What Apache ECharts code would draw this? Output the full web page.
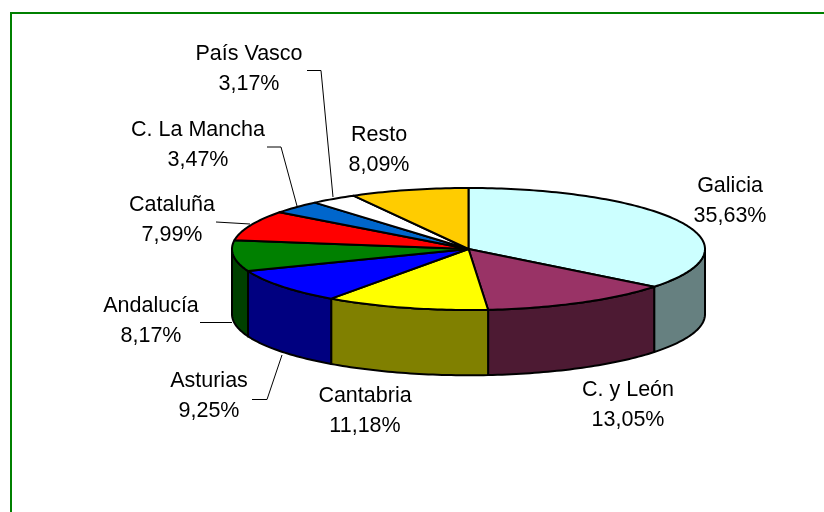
<!DOCTYPE html>
<html>
<head>
<meta charset="utf-8">
<script src="https://cdn.jsdelivr.net/npm/echarts@6/dist/echarts.min.js"></script>
<style>
  html, body { margin: 0; padding: 0; background: #fff; }
  #pie { width: 824px; height: 512px; }
</style>
</head>
<body>
<div id="pie"></div>
<script>
var regions = ['Galicia', 'C. y León', 'Cantabria', 'Asturias', 'Andalucía', 'Cataluña', 'C. La Mancha', 'País Vasco', 'Resto'];
var shares = [35.63, 13.05, 11.18, 9.25, 8.17, 7.99, 3.47, 3.17, 8.09];
var topColors = ['#CCFFFF', '#993366', '#FFFF00', '#0000FF', '#008000', '#FF0000', '#0066CC', '#FFFFFF', '#FFCC00'];
var sideColors = ['#668080', '#4D1A33', '#808000', '#000080', '#004000', '#800000', '#003366', '#808080', '#806600'];

// centre of each label block, px
var labelSpots = [[730, 201], [628, 405], [365, 411], [209, 396], [151, 321], [172, 220], [198, 145], [249, 69], [379, 150]];
var leaders = [
  [[252, 399.5], [267, 399.5], [282, 355]],
  [[200, 322.5], [232, 322.5]],
  [[216, 222], [250, 224]],
  [[267, 147], [281, 147], [297, 206]],
  [[307, 70.5], [321, 70.5], [333, 197]]
];

var total = shares.reduce(function (a, b) { return a + b; }, 0);
var depth = 1.07;   // height of the wall, in axis units
var starts = [];
var run = 0;
shares.forEach(function (v) {
  starts.push(run / total * Math.PI * 2);
  run += v;
});

function rim(angle, drop) {
  return [Math.sin(angle), Math.cos(angle) * -1 + (drop || 0)];
}

function arcPoints(from, to, drop, api) {
  var pts = [];
  var steps = Math.max(2, Math.ceil((to - from) / 0.02));
  for (var i = 0; i <= steps; i++) {
    pts.push(api.coord(rim(from + (to - from) * i / steps, drop)));
  }
  return pts;
}

function renderTop(params, api) {
  var i = params.dataIndex;
  var from = starts[i];
  var to = from + api.value(1) / total * Math.PI * 2;
  var pts = [api.coord([0, 0])].concat(arcPoints(from, to, 0, api));
  return {
    type: 'polygon',
    shape: { points: pts },
    style: { fill: topColors[i], stroke: '#000', lineWidth: 2, lineJoin: 'round' }
  };
}

function renderSide(params, api) {
  var i = params.dataIndex;
  var from = starts[i];
  var to = from + api.value(1) / total * Math.PI * 2;
  // only the front half of the disc shows its wall
  from = Math.max(from, Math.PI / 2);
  to = Math.min(to, Math.PI * 1.5);
  if (to <= from) return null;
  var pts = arcPoints(from, to, 0, api).concat(arcPoints(from, to, depth, api).reverse());
  return {
    type: 'polygon',
    shape: { points: pts },
    style: { fill: sideColors[i], stroke: '#000', lineWidth: 2, lineJoin: 'round' }
  };
}

var chartDom = document.getElementById('pie');
var myChart = echarts.init(chartDom);

var graphics = [{
  type: 'polyline',
  shape: { points: [[11, 512], [11, 13], [824, 13]] },
  style: { stroke: '#008000', lineWidth: 2, fill: null }
}];
leaders.forEach(function (l) {
  graphics.push({
    type: 'polyline',
    shape: { points: l },
    style: { stroke: '#000', lineWidth: 1, fill: null }
  });
});
regions.forEach(function (name, i) {
  graphics.push({
    type: 'text',
    x: labelSpots[i][0],
    y: labelSpots[i][1],
    style: {
      text: name + '\n' + shares[i].toFixed(2).replace('.', ',') + '%',
      fontFamily: '"Liberation Sans", Arial, sans-serif',
      fontSize: 21.5,
      lineHeight: 30,
      fill: '#000',
      align: 'center',
      verticalAlign: 'middle'
    }
  });
});

var rows = regions.map(function (name, i) { return [i, shares[i], name]; });

var option = {
  animation: false,
  backgroundColor: '#fff',
  tooltip: {},
  grid: { left: 232, top: 188, width: 473, height: 122 },
  xAxis: { type: 'value', min: -1, max: 1, show: false },
  yAxis: { type: 'value', min: -1, max: 1, inverse: true, show: false },
  graphic: graphics,
  series: [
    { type: 'custom', coordinateSystem: 'cartesian2d', z: 1, clip: false, renderItem: renderSide, data: rows, encode: { x: -1, y: -1 } },
    { type: 'custom', coordinateSystem: 'cartesian2d', z: 2, clip: false, renderItem: renderTop, data: rows, encode: { x: -1, y: -1 } }
  ]
};
option && myChart.setOption(option);
</script>
</body>
</html>
